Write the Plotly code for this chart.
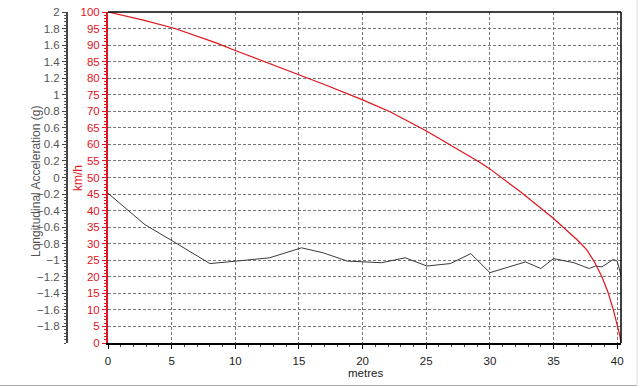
import plotly.graph_objects as go

# Longitudinal acceleration (g) vs distance (m)
acc_x = [0, 2.9, 5.1, 8.0, 10.1, 12.7, 15.2, 16.9, 18.8, 19.8, 21.5, 23.35, 25.05, 26.9,
         28.5, 30.0, 32.8, 34.0, 35.0, 36.6, 37.8, 38.3, 38.8, 39.7, 40.0, 40.3]
acc_g = [-0.19, -0.57, -0.77, -1.04, -1.01, -0.97, -0.85, -0.91, -1.01, -1.02, -1.03, -0.97,
         -1.07, -1.04, -0.92, -1.15, -1.02, -1.10, -0.98, -1.03, -1.10, -1.07, -1.08, -0.99,
         -1.01, -1.18]

# Speed (km/h) vs distance (m)
spd_x = [0, 2.7, 5.2, 8.55, 10.1, 12.2, 15.1, 17.2, 20.1, 22.2, 25.05, 27.1, 29.2, 30.0,
         32.5, 35.0, 36.85, 37.6, 38.2, 38.8, 39.3, 39.7, 40.0, 40.2, 40.3]
spd_kmh = [100, 97.6, 95.1, 90.6, 88.2, 85.1, 81.0, 77.8, 73.3, 69.8, 64.0, 59.4, 54.6, 52.6,
           45.4, 37.6, 31.2, 28.2, 24.6, 20.0, 15.1, 10.0, 5.6, 2.4, 0]

x_ticks = [0, 5, 10, 15, 20, 25, 30, 35, 40]
acc_ticks = [round(-1.8 + 0.2 * i, 1) for i in range(20)]
kmh_ticks = list(range(0, 101, 5))

RED = "#e0141c"
GREY = "#555555"
FONT = "Liberation Sans, Arial, sans-serif"

fig = go.Figure()
fig.add_trace(go.Scatter(x=acc_x, y=acc_g, mode="lines", yaxis="y",
                         line=dict(color="#3a3a3a", width=1), showlegend=False))
fig.add_trace(go.Scatter(x=spd_x, y=spd_kmh, mode="lines", yaxis="y2",
                         line=dict(color=RED, width=1.2), showlegend=False))

W, H = 640, 388
# target positions in the viewport
AX_L, PLOT_L, PLOT_R, PLOT_T, PLOT_B = 67, 108, 621, 12, 343
L = AX_L
T = PLOT_T
R = W - PLOT_R
B = H - PLOT_B
plot_w = W - L - R
plot_h = H - T - B
dom0 = (PLOT_L - AX_L) / plot_w


def px(xv):
    return (xv - AX_L) / plot_w


def py(yv):
    return (PLOT_B - yv) / plot_h


fig.update_layout(
    width=W, height=H,
    margin=dict(l=L, r=R, t=T, b=B, pad=0),
    paper_bgcolor="white", plot_bgcolor="white",
    font=dict(family=FONT, size=12, color="#222"),
    xaxis=dict(
        domain=[dom0, 1], range=[0, 40.3], tickvals=x_ticks, automargin=False,
        showgrid=True, gridcolor="#777", griddash="3px,2px", gridwidth=1,
        showline=True, linecolor="black", linewidth=2,
        ticks="outside", ticklen=4, tickcolor="black", ticklabelstandoff=2,
        minor=dict(dtick=1, ticks="outside", ticklen=2, tickcolor="#444", showgrid=False),
        zeroline=False, ticklabeloverflow="allow",
        tickfont=dict(size=11.5, color="#222"),
    ),
    yaxis=dict(
        anchor="free", position=0, range=[-2, 2], tickvals=acc_ticks, automargin=False,
        showgrid=True, gridcolor="#777", griddash="3px,2px", gridwidth=1,
        showline=True, linecolor="#444", linewidth=2,
        ticks="outside", ticklen=4, tickcolor="#444",
        minor=dict(dtick=0.04, ticks="outside", ticklen=2, tickcolor="#555", showgrid=False),
        zeroline=False, ticklabeloverflow="allow",
        tickfont=dict(size=11.5, color=GREY),
    ),
    yaxis2=dict(
        overlaying="y", anchor="x", side="left", range=[0, 100], tickvals=kmh_ticks,
        automargin=False, showgrid=False, zeroline=False, ticklabeloverflow="allow",
        showline=True, linecolor=RED, linewidth=2,
        ticks="outside", ticklen=4, tickcolor=RED,
        minor=dict(dtick=1, ticks="outside", ticklen=2, tickcolor=RED, showgrid=False),
        tickfont=dict(size=11.5, color=RED),
    ),
    annotations=[
        dict(text="Longitudinal Acceleration (g)", xref="paper", yref="paper",
             x=px(36), y=py(182), textangle=-90, showarrow=False,
             font=dict(size=12, color=GREY), xanchor="center", yanchor="middle"),
        dict(text="km/h", xref="paper", yref="paper",
             x=px(78), y=py(178), textangle=-90, showarrow=False,
             font=dict(size=12, color=RED), xanchor="center", yanchor="middle"),
        dict(text="metres", xref="paper", yref="paper",
             x=px(365), y=py(373), showarrow=False,
             font=dict(size=11.5, color="#222"), xanchor="center", yanchor="middle"),
    ],
    shapes=[
        dict(type="line", xref="paper", yref="paper", x0=dom0, x1=1, y0=1, y1=1,
             line=dict(color="black", width=1.5)),
        dict(type="line", xref="paper", yref="paper", x0=1, x1=1, y0=0, y1=1,
             line=dict(color="black", width=1.5)),
        dict(type="line", xref="paper", yref="paper", x0=px(0), x1=px(637),
             y0=py(385.5), y1=py(385.5), line=dict(color="#aaa", width=1)),
        dict(type="line", xref="paper", yref="paper", x0=px(637), x1=px(637),
             y0=py(385.5), y1=py(0), line=dict(color="#ddd", width=1)),
    ],
)

fig.write_html("out.html", config={"displayModeBar": False},
               post_script="document.body.style.margin='0';document.body.style.overflow='hidden';")
